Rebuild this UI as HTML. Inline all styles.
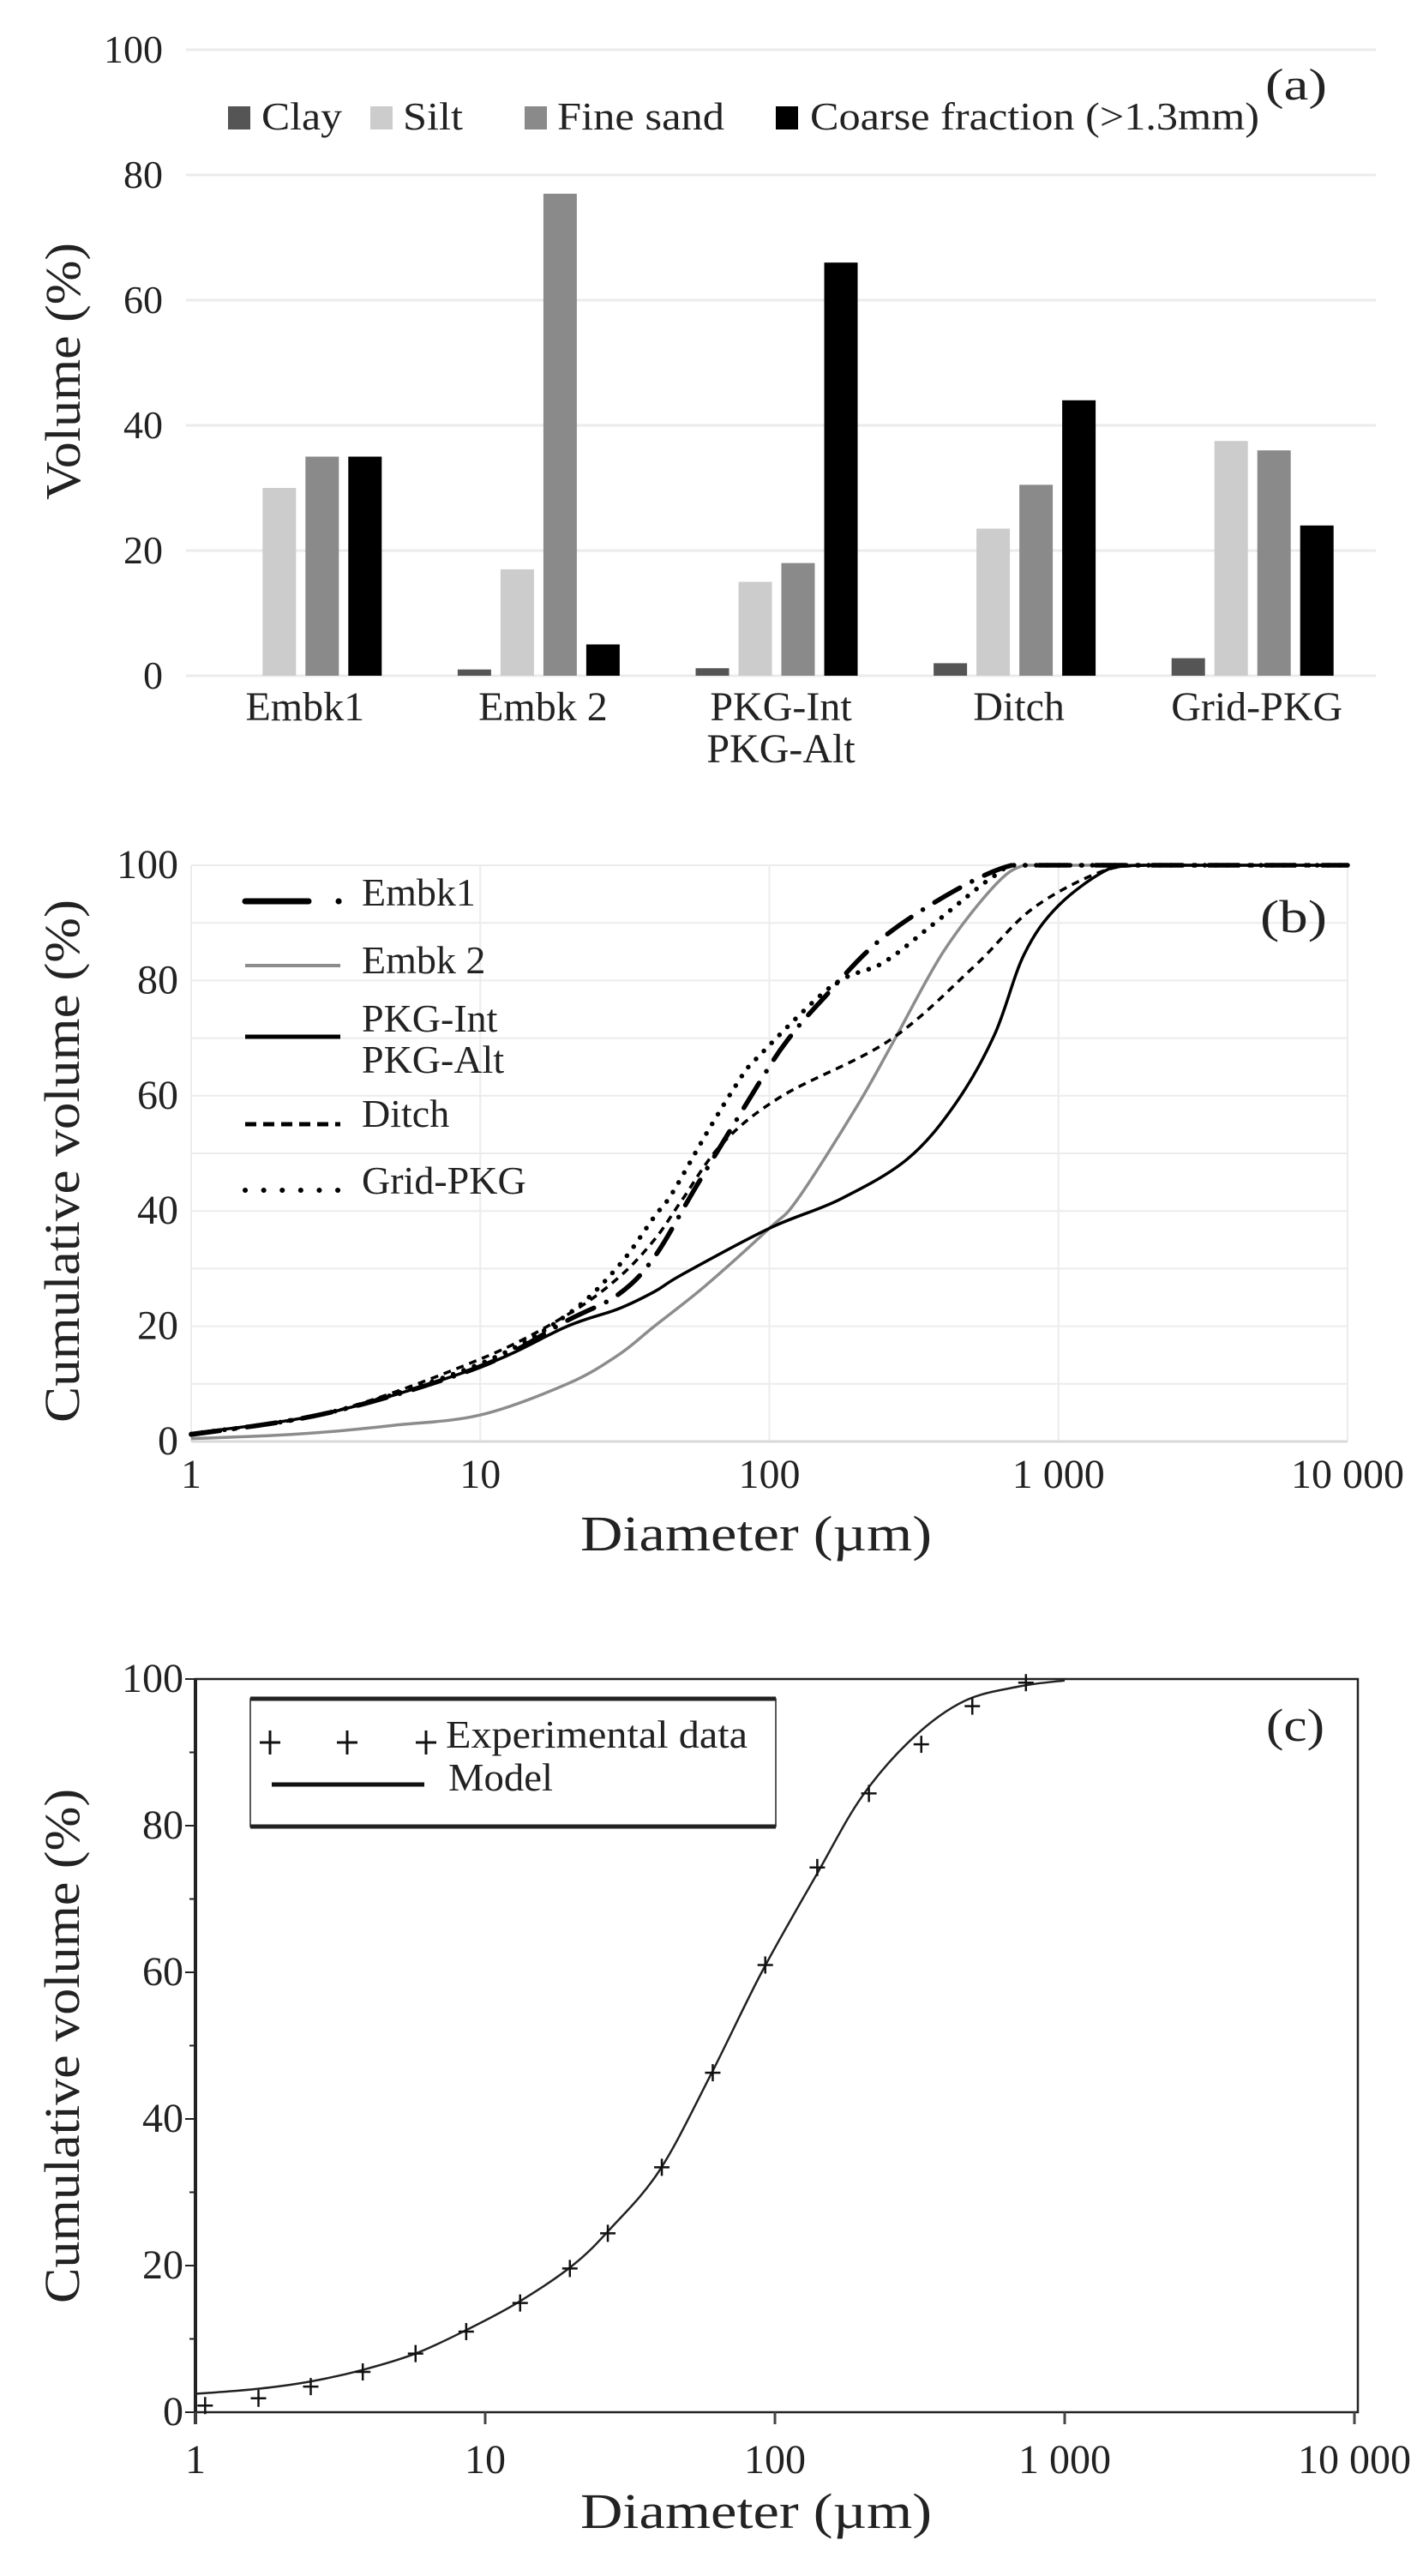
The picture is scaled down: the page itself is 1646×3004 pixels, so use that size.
<!DOCTYPE html>
<html><head><meta charset="utf-8"><style>
html,body{margin:0;padding:0;background:#fff;}
svg{display:block;}
svg text{font-family:"Liberation Serif","Times New Roman","Nimbus Roman","Tinos",serif;}
</style></head><body>
<svg id="fig" width="1646" height="3004" viewBox="0 0 1646 3004" xmlns="http://www.w3.org/2000/svg">
<g id="pa"></g>
<g id="pb"></g>
<g id="pc"></g>
</svg>
<script>
// ---------- Panel (a) data ----------
const barCategories = ["Embk1", "Embk 2", "PKG-Int|PKG-Alt", "Ditch", "Grid-PKG"];
const barSeriesNames = ["Clay", "Silt", "Fine sand", "Coarse fraction (>1.3mm)"];
const clayVals = [0, 1, 1.2, 2, 2.8];
const siltVals = [30, 17, 15, 23.5, 37.5];
const fineSandVals = [35, 77, 18, 30.5, 36];
const coarseVals = [35, 5, 66, 44, 24];
const barYTicks = [0, 20, 40, 60, 80, 100];

// ---------- Panel (b) data ----------
const bXTicks = [1, 10, 100, 1000, 10000];
const bXTickLabels = ["1", "10", "100", "1 000", "10 000"];
const bYTicks = [0, 20, 40, 60, 80, 100];
const embk1D = [1, 3, 10, 20, 30, 40, 57, 97, 117, 150, 241, 431, 690, 1000, 3000, 10000];
const embk1V = [1.2, 5, 13, 21, 25.5, 32, 45, 64, 70, 76.3, 87, 95.4, 100, 100, 100, 100];
const embk2D = [1, 2, 3, 5, 10, 20, 30, 40, 60, 100, 125, 200, 270, 400, 600, 760, 1000, 3000, 10000];
const embk2V = [0.5, 1.1, 1.7, 2.8, 4.6, 10, 15, 20, 27, 37, 42, 58, 69.6, 85, 96.4, 100, 100, 100, 100];
const pkgD = [1, 3, 10, 20, 30, 40, 50, 100, 175, 300, 440, 600, 760, 1000, 1500, 2000, 4000, 10000];
const pkgV = [1.4, 5, 13, 20, 23, 26, 29, 37, 42, 49, 58.6, 70.5, 84.5, 93, 99.4, 100, 100, 100];
const ditchD = [1, 3, 10, 20, 30, 40, 50, 69, 111, 260, 510, 810, 1390, 2000, 4000, 10000];
const ditchV = [1.4, 5, 14.3, 22, 28.4, 35, 42, 51.8, 60, 69.6, 82.4, 92.4, 98.8, 100, 100, 100];
const gridD = [1, 3, 10, 20, 30, 40, 46, 61, 78, 90, 164, 246, 353, 495, 594, 700, 1000, 3000, 10000];
const gridV = [1.3, 5, 13.5, 22, 30.4, 39, 43, 53.7, 62.4, 66.4, 79, 83, 89, 95, 98, 100, 100, 100, 100];

// ---------- Panel (c) data ----------
const cXTicks = [1, 10, 100, 1000, 10000];
const cXTickLabels = ["1", "10", "100", "1  000", "10 000"];
const cYTicks = [0, 20, 40, 60, 80, 100];
const expD = [1.08, 1.65, 2.5, 3.78, 5.75, 8.6, 13.2, 19.6, 26.5, 40.7, 61, 92.6, 140, 211, 320, 480, 735];
const expV = [0.9, 1.9, 3.5, 5.5, 8.0, 11.0, 14.9, 19.6, 24.4, 33.4, 46.3, 61, 74.3, 84.4, 91.1, 96.3, 99.5];
const modelD = [1, 1.65, 2.5, 3.8, 5.75, 8.6, 13, 20, 27, 40, 60, 90, 140, 200, 300, 450, 700, 1000];
const modelV = [2.5, 3.2, 4.2, 5.8, 8.0, 11.2, 15, 20, 25, 33, 46, 60, 73.5, 84, 92, 97, 99, 99.8];

const NS = "http://www.w3.org/2000/svg";
function mk(parent, tag, attrs, text) {
  const e = document.createElementNS(NS, tag);
  for (const k in attrs) e.setAttribute(k, attrs[k]);
  if (text !== undefined) e.textContent = text;
  parent.appendChild(e);
  return e;
}
function smoothPath(pts, yMin) {
  let d = "M" + pts[0][0].toFixed(1) + "," + pts[0][1].toFixed(1);
  const cl = v => (yMin !== undefined ? Math.max(yMin, v) : v);
  for (let i = 0; i < pts.length - 1; i++) {
    const p0 = pts[Math.max(0, i - 1)], p1 = pts[i], p2 = pts[i + 1], p3 = pts[Math.min(pts.length - 1, i + 2)];
    const c1x = p1[0] + (p2[0] - p0[0]) / 6, c1y = cl(p1[1] + (p2[1] - p0[1]) / 6);
    const c2x = p2[0] - (p3[0] - p1[0]) / 6, c2y = cl(p2[1] - (p3[1] - p1[1]) / 6);
    d += " C" + c1x.toFixed(1) + "," + c1y.toFixed(1) + " " + c2x.toFixed(1) + "," + c2y.toFixed(1) + " " + p2[0].toFixed(1) + "," + p2[1].toFixed(1);
  }
  return d;
}

// ================= Panel (a) =================
(function () {
  const g = document.getElementById("pa");
  const x0 = 217, x1 = 1605, yTop = 58, yBot = 788;
  const ya = v => yBot - (v / 100) * (yBot - yTop);
  const catW = (x1 - x0) / barCategories.length;
  const bw = 39, pitch = 50;
  barYTicks.forEach(t => {
    const ln = mk(g, "line", {x1: x0, x2: x1, y1: ya(t), y2: ya(t), stroke: "#ebebeb", "stroke-width": 3});
    
    
    const tx = mk(g, "text", {x: 190, y: ya(t) + 15, "text-anchor": "end", "font-size": 46, fill: "#222"}, String(t));
    
    
  });
  const series = [clayVals, siltVals, fineSandVals, coarseVals];
  const colors = ["#555555", "#cccccc", "#8a8a8a", "#000000"];
  barCategories.forEach((c, i) => {
    const cx = x0 + catW * (i + 0.5);
    series.forEach((vals, s) => {
      const bx = cx - 2 * pitch + s * pitch + (pitch - bw) / 2 - 5;
      const r = mk(g, "rect", {x: bx, y: ya(vals[i]), width: bw, height: Math.max(0, yBot - ya(vals[i])), fill: colors[s]});
      
      
    });
    const lines = c.split("|");
    lines.forEach((l, k) => {
      const t = mk(g, "text", {x: cx, y: 840 + k * 49, "text-anchor": "middle", "font-size": 48, fill: "#222"}, l);
      
      
    });
  });
  const legSq = [266, 432, 612, 905];
  const legTx = [305, 470, 650, 945];
  const legW = [94, 70, 195, 524];
  barSeriesNames.forEach((n, s) => {
    const sq = mk(g, "rect", {x: legSq[s], y: 124, width: 26, height: 27, fill: colors[s]});
    
    
    const t = mk(g, "text", {x: legTx[s], y: 151, "font-size": 46, fill: "#222", textLength: legW[s], lengthAdjust: "spacingAndGlyphs"}, n);
    
    
  });
  const lab = mk(g, "text", {x: 1476, y: 116, "font-size": 52, fill: "#222", textLength: 72, lengthAdjust: "spacingAndGlyphs"}, "(a)");
  
  
  const yt = mk(g, "text", {x: 0, y: 0, "font-size": 58, fill: "#222", "text-anchor": "middle", textLength: 300, lengthAdjust: "spacingAndGlyphs", transform: "translate(93,433) rotate(-90)"}, "Volume (%)");
  
  
})();

// ================= Panel (b) =================
(function () {
  const g = document.getElementById("pb");
  const x0 = 223, x1 = 1572, yTop = 1009, yBot = 1681;
  const xb = d => x0 + Math.log10(d) / 4 * (x1 - x0);
  const yb = v => yBot - v / 100 * (yBot - yTop);
  for (let v = 10; v <= 100; v += 10) {
    const ln = mk(g, "line", {x1: x0, x2: x1, y1: yb(v), y2: yb(v), stroke: "#ececec", "stroke-width": 2});
    
    
  }
  bXTicks.forEach((d, i) => {
    const ln = mk(g, "line", {x1: xb(d), x2: xb(d), y1: yTop, y2: yBot, stroke: "#ececec", "stroke-width": 2});
    
    
    const t = mk(g, "text", {x: xb(d), y: 1735, "text-anchor": "middle", "font-size": 48, fill: "#222"}, bXTickLabels[i]);
    
    
  });
  const ax = mk(g, "line", {x1: x0, x2: x1, y1: yBot, y2: yBot, stroke: "#d9d9d9", "stroke-width": 3});
  
  
  bYTicks.forEach(t => {
    const tx = mk(g, "text", {x: 208, y: yb(t) + 15, "text-anchor": "end", "font-size": 48, fill: "#222"}, String(t));
    
    
  });
  const specs = [
    {n: "embk2", D: embk2D, V: embk2V, st: {stroke: "#8c8c8c", "stroke-width": 3.5}},
    {n: "pkg", D: pkgD, V: pkgV, st: {stroke: "#000", "stroke-width": 3.5}},
    {n: "ditch", D: ditchD, V: ditchV, st: {stroke: "#000", "stroke-width": 3.5, "stroke-dasharray": "9 7"}},
    {n: "grid-pkg", D: gridD, V: gridV, st: {stroke: "#000", "stroke-width": 5.5, "stroke-dasharray": "0.1 13", "stroke-linecap": "round"}},
    {n: "embk1", D: embk1D, V: embk1V, st: {stroke: "#000", "stroke-width": 5.5, "stroke-dasharray": "34 16 0.1 16", "stroke-linecap": "round"}}
  ];
  specs.forEach(s => {
    const pts = s.D.map((d, i) => [xb(d), yb(s.V[i])]);
    const p = mk(g, "path", Object.assign({d: smoothPath(pts, yTop), fill: "none"}, s.st));
    
    
  });
  const L = [
    {y: 1051, st: {stroke: "#000", "stroke-width": 7, "stroke-dasharray": "74 35 0.1 100", "stroke-linecap": "round"}, t: ["Embk1"], ty: [1056]},
    {y: 1126, st: {stroke: "#8c8c8c", "stroke-width": 4}, t: ["Embk 2"], ty: [1135]},
    {y: 1209, st: {stroke: "#000", "stroke-width": 5}, t: ["PKG-Int", "PKG-Alt"], ty: [1203, 1251]},
    {y: 1311, st: {stroke: "#000", "stroke-width": 5, "stroke-dasharray": "13 8"}, t: ["Ditch"], ty: [1314]},
    {y: 1388, st: {stroke: "#000", "stroke-width": 6, "stroke-dasharray": "0.1 21.5", "stroke-linecap": "round"}, t: ["Grid-PKG"], ty: [1392]}
  ];
  L.forEach((e, i) => {
    const ln = mk(g, "line", Object.assign({x1: 286, x2: 397, y1: e.y, y2: e.y}, e.st));
    
    
    e.t.forEach((tx, k) => {
      const t = mk(g, "text", {x: 422, y: e.ty[k], "font-size": 46, fill: "#222"}, tx);
      
      
    });
  });
  const lab = mk(g, "text", {x: 1470, y: 1087, "font-size": 54, fill: "#222", textLength: 78, lengthAdjust: "spacingAndGlyphs"}, "(b)");
  
  
  const xt = mk(g, "text", {x: 882, y: 1808, "text-anchor": "middle", "font-size": 58, fill: "#222", textLength: 410, lengthAdjust: "spacingAndGlyphs"}, "Diameter  (µm)");
  
  
  const yt = mk(g, "text", {x: 0, y: 0, "font-size": 58, fill: "#222", "text-anchor": "middle", textLength: 610, lengthAdjust: "spacingAndGlyphs", transform: "translate(92,1354) rotate(-90)"}, "Cumulative volume (%)");
  
  
})();

// ================= Panel (c) =================
(function () {
  const g = document.getElementById("pc");
  const x0 = 228, x1 = 1580, yTop = 1958, yBot = 2813;
  const xc = d => x0 + Math.log10(d) / 4 * (x1 - x0);
  const yc = v => yBot - v / 100 * (yBot - yTop);
  const fr = mk(g, "rect", {x: x0, y: yTop, width: 1584 - x0, height: yBot - yTop, fill: "none", stroke: "#222", "stroke-width": 2.5});
  
  
  const ya = mk(g, "line", {x1: x0, x2: x0, y1: yTop, y2: yBot + 14, stroke: "#222", "stroke-width": 4});
  
  
  for (let v = 0; v <= 100; v += 10) {
    const ln = mk(g, "line", {x1: x0 - (v % 20 === 0 ? 12 : 7), x2: x0, y1: yc(v), y2: yc(v), stroke: "#222", "stroke-width": 2});
    
    
  }
  cYTicks.forEach(t => {
    const tx = mk(g, "text", {x: 214, y: yc(t) + 15, "text-anchor": "end", "font-size": 48, fill: "#222"}, String(t));
    
    
  });
  cXTicks.forEach((d, i) => {
    const ln = mk(g, "line", {x1: xc(d), x2: xc(d), y1: yBot, y2: yBot + 14, stroke: "#444", "stroke-width": 3});
    
    
    const t = mk(g, "text", {x: xc(d), y: 2884, "text-anchor": "middle", "font-size": 48, fill: "#222"}, cXTickLabels[i]);
    
    
  });
  const pts = modelD.map((d, i) => [xc(d), yc(modelV[i])]);
  const mp = mk(g, "path", {d: smoothPath(pts, yTop), fill: "none", stroke: "#222", "stroke-width": 2.5});
  
  
  expD.forEach((d, i) => {
    const x = xc(d), y = yc(expV[i]);
    const p = mk(g, "path", {d: `M${x - 9},${y}H${x + 9}M${x},${y - 10}V${y + 10}`, stroke: "#111", "stroke-width": 2.5});
    
    
  });
  const lg = mk(g, "g", {});
  
  
  mk(lg, "rect", {x: 292, y: 1981, width: 613, height: 149, fill: "#fff", stroke: "#222", "stroke-width": 1.5});
  mk(lg, "line", {x1: 292, x2: 905, y1: 1981, y2: 1981, stroke: "#222", "stroke-width": 5});
  mk(lg, "line", {x1: 292, x2: 905, y1: 2130, y2: 2130, stroke: "#222", "stroke-width": 5});
  [315, 405, 497].forEach(x => {
    const p = mk(lg, "path", {d: `M${x - 12},2032H${x + 12}M${x},2018V2046`, stroke: "#111", "stroke-width": 3});
    
    
  });
  mk(lg, "line", {x1: 317, x2: 495, y1: 2081, y2: 2081, stroke: "#111", "stroke-width": 5});
  const t1 = mk(lg, "text", {x: 520, y: 2038, "font-size": 46, fill: "#222", textLength: 352, lengthAdjust: "spacingAndGlyphs"}, "Experimental data");
  
  
  const t2 = mk(lg, "text", {x: 523, y: 2088, "font-size": 46, fill: "#222", textLength: 122, lengthAdjust: "spacingAndGlyphs"}, "Model");
  
  
  const lab = mk(g, "text", {x: 1477, y: 2030, "font-size": 54, fill: "#222", textLength: 68, lengthAdjust: "spacingAndGlyphs"}, "(c)");
  
  
  const xt = mk(g, "text", {x: 882, y: 2948, "text-anchor": "middle", "font-size": 58, fill: "#222", textLength: 410, lengthAdjust: "spacingAndGlyphs"}, "Diameter  (µm)");
  
  
  const yt = mk(g, "text", {x: 0, y: 0, "font-size": 58, fill: "#222", "text-anchor": "middle", textLength: 600, lengthAdjust: "spacingAndGlyphs", transform: "translate(92,2386) rotate(-90)"}, "Cumulative volume (%)");
  
  
})();
</script>
</body></html>
